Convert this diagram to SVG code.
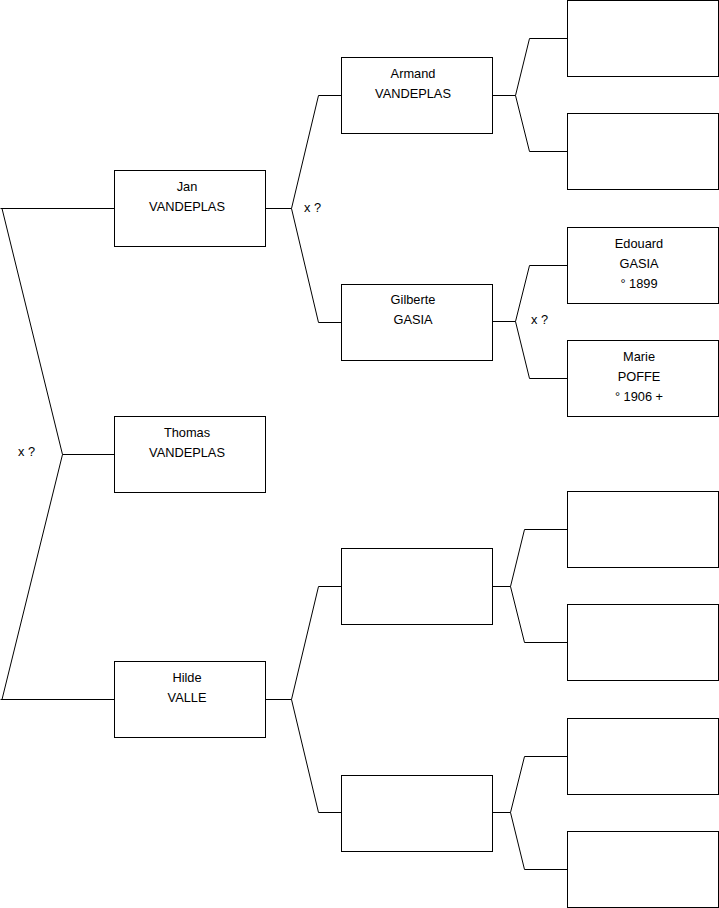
<svg xmlns="http://www.w3.org/2000/svg" width="719" height="908" viewBox="0 0 719 908">
<style>
.box{fill:#fff;stroke:#000;stroke-width:1}
.ln{fill:none;stroke:#000;stroke-width:1}
text{font-family:"Liberation Sans",Arial,sans-serif;font-size:12.8px;fill:#000}
.c{text-anchor:middle}
</style>
<rect width="719" height="908" fill="#fff"/>
<g id="connectors">
<path class="ln" d="M0.5,208.5 H114.5 M2,208.5 L62.5,454.5 L2,699.5 M0.5,699.5 H114.5 M62.5,454.5 H114.5"/>
<path class="ln" d="M265.5,208.5 H291.5 M341.5,95.5 H318.5 L291.5,208.5 L318.5,322.5 H341.5"/>
<path class="ln" d="M265.5,699.5 H291.5 M341.5,586.5 H318.5 L291.5,699.5 L318.5,812.5 H341.5"/>
<path class="ln" d="M492.5,95.5 H515.5 M567.5,38.5 H529.5 L515.5,95.5 L529.5,151.5 H567.5"/>
<path class="ln" d="M492.5,321.5 H515.5 M567.5,265.5 H529.5 L515.5,321.5 L529.5,378.5 H567.5"/>
<path class="ln" d="M492.5,586.5 H510.5 M567.5,529.5 H524.5 L510.5,586.5 L524.5,642.5 H567.5"/>
<path class="ln" d="M492.5,812.5 H510.5 M567.5,756.5 H524.5 L510.5,812.5 L524.5,869.5 H567.5"/>
<text x="304" y="212">x ?</text>
<text x="18" y="456">x ?</text>
<text x="531" y="324">x ?</text>
</g>
<g id="jan"><rect class="box" x="114.5" y="170.5" width="151" height="76"/><text class="c" x="187" y="191">Jan</text><text class="c" x="187" y="211">VANDEPLAS</text></g>
<g id="thomas"><rect class="box" x="114.5" y="416.5" width="151" height="76"/><text class="c" x="187" y="437">Thomas</text><text class="c" x="187" y="457">VANDEPLAS</text></g>
<g id="hilde"><rect class="box" x="114.5" y="661.5" width="151" height="76"/><text class="c" x="187" y="682">Hilde</text><text class="c" x="187" y="702">VALLE</text></g>
<g id="armand"><rect class="box" x="341.5" y="57.5" width="151" height="76"/><text class="c" x="413" y="78">Armand</text><text class="c" x="413" y="98">VANDEPLAS</text></g>
<g id="gilberte"><rect class="box" x="341.5" y="284.5" width="151" height="76"/><text class="c" x="413" y="304">Gilberte</text><text class="c" x="413" y="324">GASIA</text></g>
<g id="hilde-father"><rect class="box" x="341.5" y="548.5" width="151" height="76"/></g>
<g id="hilde-mother"><rect class="box" x="341.5" y="775.5" width="151" height="76"/></g>
<g id="armand-father"><rect class="box" x="567.5" y="0.5" width="151" height="76"/></g>
<g id="armand-mother"><rect class="box" x="567.5" y="113.5" width="151" height="76"/></g>
<g id="edouard"><rect class="box" x="567.5" y="227.5" width="151" height="76"/><text class="c" x="639" y="248">Edouard</text><text class="c" x="639" y="268">GASIA</text><text class="c" x="639" y="288">° 1899</text></g>
<g id="marie"><rect class="box" x="567.5" y="340.5" width="151" height="76"/><text class="c" x="639" y="361">Marie</text><text class="c" x="639" y="381">POFFE</text><text class="c" x="639" y="401">° 1906 +</text></g>
<g id="b5"><rect class="box" x="567.5" y="491.5" width="151" height="76"/></g>
<g id="b6"><rect class="box" x="567.5" y="604.5" width="151" height="76"/></g>
<g id="b7"><rect class="box" x="567.5" y="718.5" width="151" height="76"/></g>
<g id="b8"><rect class="box" x="567.5" y="831.5" width="151" height="76"/></g>
</svg>
